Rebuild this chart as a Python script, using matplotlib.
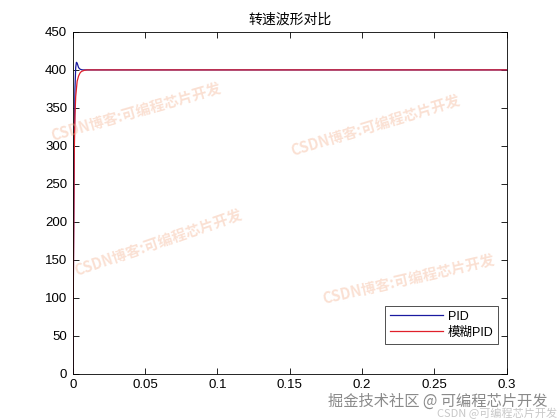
import matplotlib
matplotlib.use("Agg")
import matplotlib.pyplot as plt

plt.rcParams['font.family'] = ['Liberation Sans', 'Noto Sans CJK SC', 'DejaVu Sans']

title = "转速波形对比"
series_names = ["PID", "模糊PID"]

t_pid = [0, 0.0005, 0.001, 0.0015, 0.002, 0.0025, 0.003, 0.0035, 0.004, 0.005, 0.006, 0.007, 0.01, 0.3]
y_pid = [0, 160, 300, 375, 403, 410, 409, 406, 403, 401, 400.3, 400, 400, 400]

t_fuzzy = [0, 0.0005, 0.001, 0.0015, 0.002, 0.003, 0.004, 0.005, 0.006, 0.008, 0.01, 0.3]
y_fuzzy = [0, 150, 290, 340, 365, 385, 392, 396, 398, 399.5, 400, 400]

xticks = [0, 0.05, 0.1, 0.15, 0.2, 0.25, 0.3]
xticklabels = ["0", "0.05", "0.1", "0.15", "0.2", "0.25", "0.3"]
yticks = [0, 50, 100, 150, 200, 250, 300, 350, 400, 450]

watermark = "CSDN博客:可编程芯片开发"
wm_pos = [(-0.048, 0.693, 16), (0.505, 0.649, 17), (0.005, 0.298, 19), (0.576, 0.216, 13)]

fig = plt.figure(figsize=(5.6, 4.2), dpi=100)
ax = fig.add_axes([0.130, 0.110, 0.775, 0.814])

ax.plot(t_pid, y_pid, color='#1a1aa0', lw=0.9, label=series_names[0])
ax.plot(t_fuzzy, y_fuzzy, color='#e0202a', lw=0.9, label=series_names[1])

ax.set_xlim(0, 0.3)
ax.set_ylim(0, 450)
ax.set_xticks(xticks)
ax.set_xticklabels(xticklabels)
ax.set_yticks(yticks)
ax.tick_params(direction='in', top=True, right=True, labelsize=9.5, length=4, width=0.6, pad=4)
for s in ax.spines.values():
    s.set_linewidth(0.6)
ax.set_title(title, fontsize=10, pad=6)

leg = ax.legend(loc='lower right', bbox_to_anchor=(0.995, 0.07), fontsize=9, frameon=True,
                fancybox=False, edgecolor='black', handlelength=4.2, borderpad=0.4,
                labelspacing=0.3, handletextpad=0.4)
leg.get_frame().set_linewidth(0.6)

for (x, y, rot) in wm_pos:
    ax.text(x, y, watermark, transform=ax.transAxes, rotation=rot, rotation_mode='anchor',
            fontsize=10.5, color='#f4b392', alpha=0.4, fontweight='bold',
            family=['Noto Sans CJK SC', 'DejaVu Sans'], ha='left', va='center', clip_on=False)

fig.text(0.978, 0.045, "掘金技术社区 @ 可编程芯片开发", fontsize=11, color='#8a8a8a',
         ha='right', va='center', family=['Noto Sans CJK SC', 'DejaVu Sans'])
fig.text(0.995, 0.015, "CSDN @可编程芯片开发", fontsize=8, color='#c8c8c8',
         ha='right', va='center', family=['Noto Sans CJK SC', 'DejaVu Sans'])

fig.savefig("out.png", dpi=100)
